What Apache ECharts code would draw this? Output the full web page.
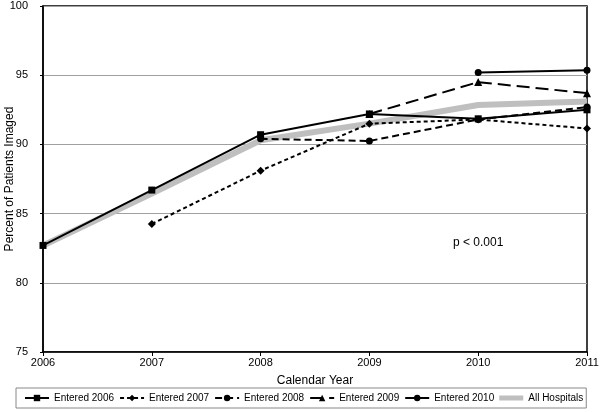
<!DOCTYPE html>
<html><head><meta charset="utf-8">
<script src="https://cdn.jsdelivr.net/npm/echarts@6/dist/echarts.min.js"></script>
<style>html,body{margin:0;padding:0;background:#fff}#c{width:601px;height:412px}</style>
</head><body><div id="c"></div>
<script>
const years = ['2006','2007','2008','2009','2010','2011'];
const entered2006 = [82.7, 86.7, 90.7, 92.2, 91.85, 92.5];
const entered2007 = [null, 84.25, 88.1, 91.5, 91.8, 91.15];
const entered2008 = [null, null, 90.4, 90.25, 91.8, 92.7];
const entered2009 = [null, null, null, 92.2, 94.5, 93.7];
const entered2010 = [null, null, null, null, 95.2, 95.35];
const allHospitals = [82.7, 86.45, 90.3, 91.5, 92.85, 93.1];
const yTicks = [75, 80, 85, 90, 95, 100];
const pText = 'p < 0.001';

const F = '"Liberation Sans", Arial, sans-serif';
const chart = echarts.init(document.getElementById('c'), null, {renderer:'canvas'});
function ser(name, data, sym, dash, size){
  return {name, type:'line', data, symbol:sym, symbolSize:size, showSymbol:true,
    connectNulls:false, z:3,
    lineStyle:{color:'#000', width:2, type:dash}, itemStyle:{color:'#000'}};
}
chart.setOption({
  animation:false,
  grid:{left:43, right:14, top:6, bottom:60, show:true, borderColor:'#000', borderWidth:1.5,
    containLabel:false, outerBoundsMode:'none'},
  textStyle:{fontFamily:F},
  xAxis:{type:'category', data:years, boundaryGap:false,
    axisLine:{lineStyle:{color:'#000', width:1.5}},
    axisTick:{show:true, length:4, lineStyle:{color:'#000'}},
    axisLabel:{color:'#000', fontSize:11, fontFamily:F, margin:5},
    name:'Calendar Year', nameLocation:'middle', nameGap:23, nameMoveOverlap:false,
    nameTextStyle:{color:'#000', fontSize:12, fontFamily:F}},
  yAxis:{type:'value', min:75, max:100, interval:5,
    axisLine:{show:true, lineStyle:{color:'#000', width:1.5}},
    axisTick:{show:true, length:3, lineStyle:{color:'#000'}},
    axisLabel:{color:'#000', fontSize:11, fontFamily:F, margin:15,
      formatter:v=>yTicks.includes(v)?String(v):''},
    splitLine:{lineStyle:{color:'#a0a0a0', width:1}},
    name:'Percent of Patients Imaged', nameLocation:'middle', nameGap:27, nameMoveOverlap:false,
    nameTextStyle:{color:'#000', fontSize:12, fontFamily:F}},
  legend:{bottom:4, left:16, itemGap:5, itemWidth:24, itemHeight:8,
    borderColor:'#888', borderWidth:1, padding:[5,3,5,8], borderRadius:0,
    textStyle:{color:'#000', fontSize:10, fontFamily:F},
    data:['Entered 2006','Entered 2007','Entered 2008','Entered 2009','Entered 2010',
      {name:'All Hospitals',
       icon:'path://M0,0L24,0L24,0.01Z M0,1.5L24,1.5L24,6.5L0,6.5Z M0,8L24,8L24,7.99Z',
       itemStyle:{color:'#bfbfbf', borderWidth:0}}]},
  graphic:[{type:'text', left:453, top:237, style:{text:pText, fill:'#000', font:'12px '+F}}],
  series:[
    {name:'All Hospitals', type:'line', data:allHospitals, symbol:'none', z:2,
      lineStyle:{color:'#bfbfbf', width:6}, itemStyle:{color:'#bfbfbf'}},
    ser('Entered 2006', entered2006, 'rect', 'solid', 7),
    ser('Entered 2007', entered2007, 'diamond', [4,3], 8),
    ser('Entered 2008', entered2008, 'circle', [7,4], 7),
    ser('Entered 2009', entered2009, 'triangle', [13,6], 8),
    ser('Entered 2010', entered2010, 'circle', 'solid', 7)
  ]
});
</script></body></html>
